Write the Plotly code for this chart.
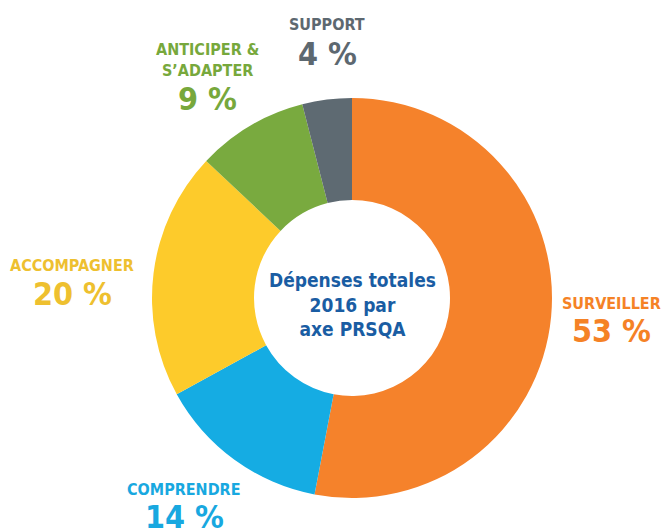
import plotly.graph_objects as go

# Dépenses totales 2016 par axe PRSQA
axes = ["SURVEILLER", "COMPRENDRE", "ACCOMPAGNER", "ANTICIPER &<br>S’ADAPTER", "SUPPORT"]
parts = [53, 14, 20, 9, 4]
slice_colors = ["#F5822B", "#15ACE3", "#FDCB2B", "#79AA3F", "#5E6A72"]
text_colors = ["#F58226", "#18A8E0", "#EEC02F", "#77A83C", "#5D6870"]
center_text = "Dépenses totales<br>2016 par<br>axe PRSQA"

W, H = 661, 531
FONT = "DejaVu Sans Condensed, Liberation Sans Narrow, Arial Narrow, sans-serif"

# label positions in pixels (x centre, name y, percentage y)
label_pos = [
    (611, 303, 331),
    (184, 489, 517),
    (72, 265, 294),
    (207, 60, 99),
    (327, 24, 54),
]

fig = go.Figure()
fig.add_trace(go.Pie(
    labels=axes,
    values=parts,
    hole=0.49,
    sort=False,
    direction="clockwise",
    rotation=0,
    marker=dict(colors=slice_colors, line=dict(width=0)),
    textinfo="none",
    hoverinfo="label+percent",
    showlegend=False,
    domain=dict(x=[152 / W, 552 / W], y=[(H - 498) / H, (H - 98) / H]),
))

annotations = []
for name, val, col, (px, py_name, py_val) in zip(axes, parts, text_colors, label_pos):
    annotations.append(dict(
        x=px / W, y=1 - py_name / H, xref="paper", yref="paper",
        text="<b>" + name + "</b>", showarrow=False,
        font=dict(family=FONT, size=16, color=col),
        xanchor="center", yanchor="middle",
    ))
    annotations.append(dict(
        x=px / W, y=1 - py_val / H, xref="paper", yref="paper",
        text="<b>%d %%</b>" % val, showarrow=False,
        font=dict(family=FONT, size=32, color=col),
        xanchor="center", yanchor="middle",
    ))

annotations.append(dict(
    x=352 / W, y=1 - 304 / H, xref="paper", yref="paper",
    text="<b>" + center_text + "</b>", showarrow=False,
    font=dict(family=FONT, size=19, color="#1A5DA3"),
    xanchor="center", yanchor="middle",
))

fig.update_layout(
    width=W, height=H,
    margin=dict(l=0, r=0, t=0, b=0),
    paper_bgcolor="white",
    plot_bgcolor="white",
    annotations=annotations,
)

fig.write_html("out.html", config={"displayModeBar": False},
               post_script="document.body.style.margin='0';")
